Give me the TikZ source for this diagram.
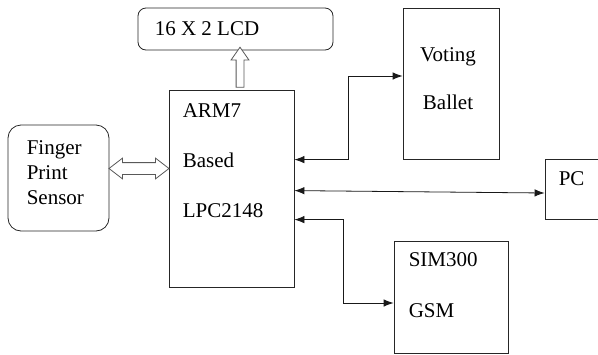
\documentclass[tikz,border=0pt]{standalone}
\usepackage{fontspec}
\setmainfont{Liberation Serif}
\usetikzlibrary{arrows.meta,shapes.arrows,calc}

\begin{document}
\begin{tikzpicture}[x=1pt,y=-1pt]
			\tikzstyle{es} = [{Latex[length=10pt,width=7.5pt]}-{Latex[length=10pt,width=7.5pt]}, draw=black!90, line width=0.8pt]
			\tikzstyle{blk} = [draw=black!85, line width=0.8pt, inner sep=0pt]
			\tikzstyle{txt} = [inner sep=0pt, align=left]
			\tikzstyle{hollow} = [draw=black!65, line width=0.8pt, fill=white]
			\useasboundingbox (0,0) rectangle (598,354);
			\node[blk, rounded corners=8pt, minimum width=195pt, minimum height=42pt] (lcd) at (235.5,29) {};
			\node[blk, minimum width=125pt, minimum height=197pt] (arm) at (231.5,188.5) {};
			\node[blk, rounded corners=13pt, minimum width=101pt, minimum height=106pt] (fps) at (58.5,178) {};
			\node[blk, minimum width=96pt, minimum height=151pt] (vote) at (451,83.5) {};
			\node[blk, minimum width=65pt, minimum height=60pt] (pc) at (577.5,189) {};
			\node[blk, minimum width=114pt, minimum height=112pt] (gsm) at (451,297) {};
			\node[txt, anchor=north west, font=\fontsize{21}{25}\selectfont] (lcdtxt) at ($(lcd.north west)+(17,14)$) {16 X 2 LCD};
			\node[txt, anchor=north west, font=\fontsize{21}{50}\selectfont] (armtxt) at ($(arm.north west)+(14,14)$) {ARM7\\Based\\LPC2148};
			\node[txt, anchor=north west, font=\fontsize{21}{25}\selectfont] (fpstxt) at ($(fps.north west)+(19,16)$) {Finger\\Print\\Sensor};
			\node[txt, anchor=north, align=center, font=\fontsize{21}{48}\selectfont] (votetxt) at ($(vote.north)+(-3,40)$) {Voting\\Ballet};
			\node[txt, anchor=north west, font=\fontsize{21}{25}\selectfont] (pctxt) at ($(pc.north west)+(14,13)$) {PC};
			\node[txt, anchor=north west, font=\fontsize{21}{51}\selectfont] (gsmtxt) at ($(gsm.north west)+(15,12)$) {SIM300\\GSM};
			% hollow links
			\node[hollow, single arrow, shape border rotate=90, single arrow head extend=5pt, single arrow tip angle=70, inner sep=3.5pt, minimum height=40pt] (uplink) at ($(arm.north)!0.5!(arm.north |- lcd.south)+(8.5,0)$) {};
			\node[hollow, double arrow, double arrow head extend=4.5pt, double arrow tip angle=75, inner sep=5.5pt, minimum height=60pt] (fpslink) at ($(fps.east)!0.5!(fps.east -| arm.west)+(0,-9.5)$) {};
			% bus lines
			\draw[es] ($(arm.north east)+(0,70)$) -- ++(54,0) |- ($(vote.west)+(0,-7.5)$);
			\draw[es] ($(arm.north east)+(0,101)$) -- ($(pc.west)+(0,4)$);
			\draw[es] ($(arm.north east)+(0,130)$) -- ++(49,0) |- ($(gsm.west)+(0,6)$);
		\end{tikzpicture}
\end{document}
